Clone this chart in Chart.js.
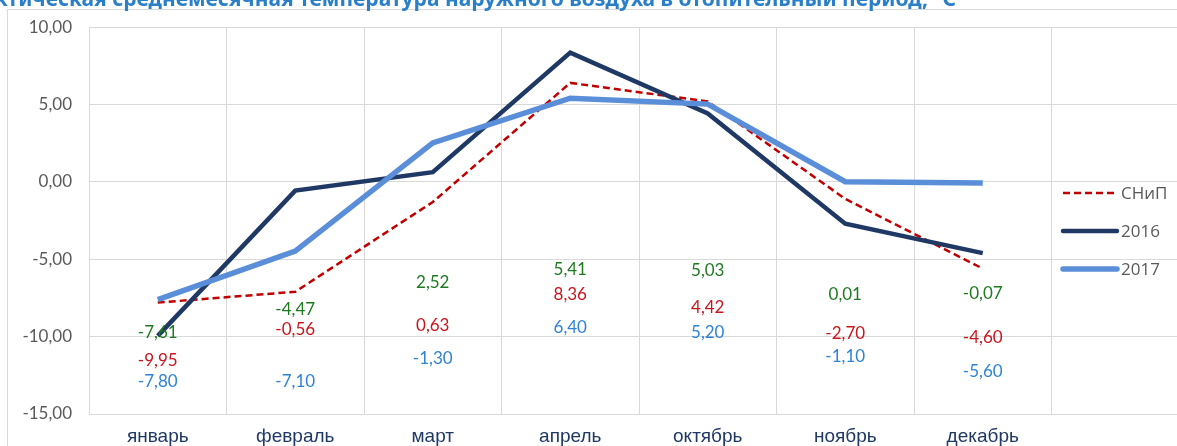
<!DOCTYPE html>
<html>
<head>
<meta charset="utf-8">
<script src="https://cdn.jsdelivr.net/npm/chart.js@4/dist/chart.umd.min.js"></script>
<style>
  html, body { margin: 0; padding: 0; background: #fff; }
  #wrap { position: relative; width: 1177px; height: 446px; overflow: hidden; }
  #chart { position: absolute; left: 0; top: 0; }
</style>
</head>
<body>
<div id="wrap"><canvas id="chart" width="1192" height="446"></canvas></div>
<script>
// months of the heating period (last slot is empty, legend sits there)
const months = ['январь', 'февраль', 'март', 'апрель', 'октябрь', 'ноябрь', 'декабрь', '']

// temperatures, °C
const snip = [-7.80, -7.10, -1.30, 6.40, 5.20, -1.10, -5.60, null]
const year2016 = [-9.95, -0.56, 0.63, 8.36, 4.42, -2.70, -4.60, null]
const year2017 = [-7.61, -4.47, 2.52, 5.41, 5.03, 0.01, -0.07, null]

// where the value texts sit (in axis units), they were placed by hand
const pos2017 = [-9.76, -8.22, -6.50, -5.67, -5.73, -7.26, -7.20]
const pos2016 = [-11.55, -9.57, -9.25, -7.26, -8.09, -9.82, -10.08]
const posSnip = [-12.89, -12.89, -11.42, -9.44, -9.76, -11.29, -12.25]

const title = 'Фактическая среднемесячная температура наружного воздуха в отопительный период, °С'

const fmt = v => v.toFixed(2).replace('.', ',')

// frame + cut title
const framePlugin = {
  id: 'frame',
  beforeDraw(chart) {
    const ctx = chart.ctx
    ctx.save()
    ctx.strokeStyle = '#d9d9d9'
    ctx.lineWidth = 1
    ctx.beginPath()
    ctx.moveTo(7.5, 446)
    ctx.lineTo(7.5, 9.5)
    ctx.lineTo(1192, 9.5)
    ctx.stroke()
    ctx.fillStyle = '#2a7fc9'
    ctx.font = 'bold 21px "Noto Sans", "Open Sans", sans-serif'
    ctx.textAlign = 'right'
    ctx.textBaseline = 'alphabetic'
    ctx.fillText(title, 956, 6)
    ctx.restore()
  }
}

// value texts under the lines
const valuesPlugin = {
  id: 'values',
  afterDatasetsDraw(chart) {
    const ctx = chart.ctx
    const x = chart.scales.x
    const y = chart.scales.y
    const rows = [
      { vals: year2017, pos: pos2017, color: '#1e7b22' },
      { vals: year2016, pos: pos2016, color: '#c8161d' },
      { vals: snip, pos: posSnip, color: '#2e84d2' }
    ]
    ctx.save()
    ctx.font = '17px Lato, "Open Sans", sans-serif'
    ctx.textAlign = 'center'
    ctx.textBaseline = 'middle'
    for (const row of rows) {
      ctx.fillStyle = row.color
      row.pos.forEach((p, i) => {
        ctx.fillText(fmt(row.vals[i]), x.getPixelForValue(i), y.getPixelForValue(p))
      })
    }
    ctx.restore()
  }
}

// legend drawn over the empty last column
const legendPlugin = {
  id: 'sideLegend',
  afterDraw(chart) {
    const ctx = chart.ctx
    const rowsY = [193, 231, 269]
    ctx.save()
    ctx.font = '17px "Open Sans", Lato, sans-serif'
    ctx.textBaseline = 'middle'
    ctx.textAlign = 'left'
    chart.data.datasets.forEach((ds, i) => {
      ctx.strokeStyle = ds.borderColor
      ctx.lineWidth = ds.borderWidth
      ctx.lineCap = ds.borderDash ? 'butt' : 'round'
      ctx.setLineDash(ds.borderDash || [])
      ctx.beginPath()
      ctx.moveTo(1063, rowsY[i])
      ctx.lineTo(1117, rowsY[i])
      ctx.stroke()
      ctx.setLineDash([])
      ctx.fillStyle = '#595959'
      ctx.fillText(ds.label, 1121, rowsY[i] + 1)
    })
    ctx.restore()
  }
}

new Chart(document.getElementById('chart'), {
  type: 'line',
  data: {
    labels: months,
    datasets: [
      {
        label: 'СНиП',
        data: snip,
        borderColor: '#c00000',
        borderWidth: 2.5,
        borderDash: [7, 4],
        order: 2
      },
      {
        label: '2016',
        data: year2016,
        borderColor: '#1f3864',
        borderWidth: 4.5,
        order: 1
      },
      {
        label: '2017',
        data: year2017,
        borderColor: '#5b8ed8',
        borderWidth: 5.5,
        order: 0
      }
    ]
  },
  options: {
    responsive: false,
    animation: false,
    devicePixelRatio: 1,
    layout: { padding: { top: 23, left: 0, right: 3, bottom: 0 } },
    elements: {
      point: { radius: 0 },
      line: { tension: 0, capBezierPoints: false, borderCapStyle: 'butt', borderJoinStyle: 'miter' }
    },
    plugins: {
      legend: { display: false },
      tooltip: { enabled: false }
    },
    scales: {
      x: {
        offset: true,
        grid: { offset: true, color: '#d9d9d9', drawTicks: false },
        border: { color: '#d9d9d9' },
        ticks: {
          color: '#1f3864',
          padding: 11,
          maxRotation: 0,
          autoSkip: false,
          font: { family: '"Liberation Sans Narrow", "Liberation Sans", sans-serif', size: 19 }
        },
        afterFit: scale => { scale.height = 32 }
      },
      y: {
        min: -15,
        max: 10,
        grid: { color: '#d9d9d9', drawTicks: false },
        border: { color: '#d9d9d9' },
        ticks: {
          stepSize: 5,
          color: '#595959',
          padding: 17,
          font: { family: 'Lato, "Open Sans", sans-serif', size: 17 },
          callback: v => fmt(v)
        },
        afterFit: scale => { scale.width = 89 }
      }
    }
  },
  plugins: [framePlugin, valuesPlugin, legendPlugin]
})
</script>
</body>
</html>
